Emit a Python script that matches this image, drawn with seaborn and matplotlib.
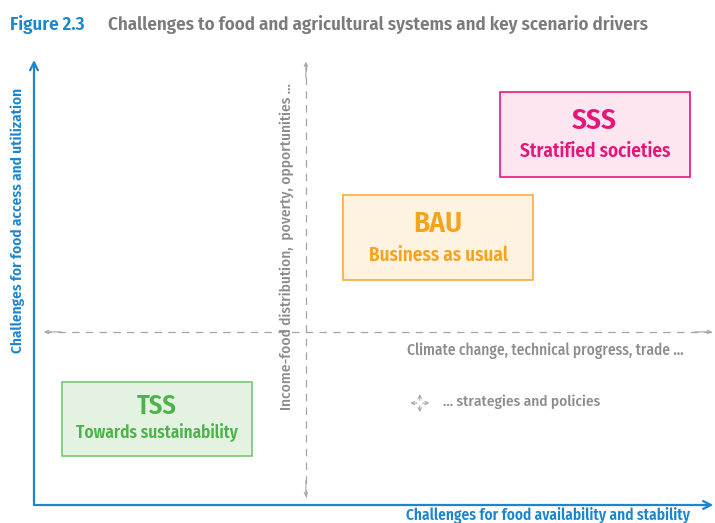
import matplotlib
matplotlib.use("Agg")
import matplotlib.pyplot as plt
from matplotlib.patches import Rectangle
import seaborn as sns

# scenario positions on the two challenge axes (0-10 scale)
codes = ["SSS", "BAU", "TSS"]
names = ["Stratified societies", "Business as usual", "Towards sustainability"]
availability = [8.27, 5.96, 1.81]   # x: challenges for food availability and stability
access = [8.33, 6.01, 1.94]         # y: challenges for food access and utilization

# where the two driver axes cross
driver_x = 4.01
driver_y = 3.89

title_fig = "Figure 2.3"
title_txt = "Challenges to food and agricultural systems and key scenario drivers"
xlabel = "Challenges for food availability and stability"
ylabel = "Challenges for food access and utilization"
h_driver = "Climate change, technical progress, trade ..."
v_driver = "Income-food distribution,  poverty, opportunities ..."
policy_txt = "... strategies and policies"

sns.set_theme(style="white")
plt.rcParams["font.family"] = ["Fira Sans Condensed", "DejaVu Sans"]

BLUE = "#1a86d0"
GREY = "#8c8c8c"
box_style = {
    "SSS": dict(edge="#e8177d", fill="#fde6f0", text="#e5157b", w=2.80, h=1.91,
                up=0.31, dn=0.39, big=21, small=13.8),
    "BAU": dict(edge="#f8ad3a", fill="#fef2e0", text="#f5a21c", w=2.80, h=1.91,
                up=0.32, dn=0.39, big=21, small=13.8),
    "TSS": dict(edge="#76c776", fill="#e3f2e1", text="#4cb34a", w=2.80, h=1.66,
                up=0.28, dn=0.33, big=19, small=12.4),
}

fig = plt.figure(figsize=(7.15, 5.23), dpi=100)
ax = fig.add_axes([34 / 715, 18 / 523, 678 / 715, 445 / 523])
ax.set_xlim(0, 10)
ax.set_ylim(0, 10)
ax.axis("off")

# title
fig.text(10 / 715, 1 - 25 / 523, title_fig, color=BLUE, fontsize=13.6,
         fontweight="semibold", va="center")
fig.text(108 / 715, 1 - 25 / 523, title_txt, color="#7b7b7b", fontsize=13.6,
         fontweight="semibold", va="center")

# main axes (blue arrows)
ax.annotate("", xy=(0, 10), xytext=(0, 0), annotation_clip=False,
            arrowprops=dict(arrowstyle="->", color=BLUE, lw=1.6,
                            shrinkA=0, shrinkB=0, mutation_scale=14))
ax.annotate("", xy=(10.02, 0), xytext=(0, 0), annotation_clip=False,
            arrowprops=dict(arrowstyle="->", color=BLUE, lw=1.6,
                            shrinkA=0, shrinkB=0, mutation_scale=14))
fig.text(18 / 715, 1 - 220 / 523, ylabel, color=BLUE, fontsize=11,
         fontweight="semibold", rotation=90, ha="center", va="center")
ax.text(9.68, -0.23, xlabel, color=BLUE, fontsize=11.1, fontweight="semibold",
        ha="right", va="center", clip_on=False)

# dashed driver axes
dash = dict(color="#a5a5a5", lw=0.9, ls=(0, (6, 5)))
ax.plot([0.15, 10], [driver_y, driver_y], **dash)
ax.plot([driver_x, driver_x], [0.18, 9.96], **dash)
for xy, xyt in [((0.15, driver_y), (0.4, driver_y)), ((10, driver_y), (9.75, driver_y)),
                ((driver_x, 9.96), (driver_x, 9.6)), ((driver_x, 0.18), (driver_x, 0.55))]:
    ax.annotate("", xy=xy, xytext=xyt, annotation_clip=False,
                arrowprops=dict(arrowstyle="->", color="#a5a5a5", lw=0.8,
                                shrinkA=0, shrinkB=0, mutation_scale=6))

ax.text(5.50, 3.46, h_driver, color=GREY, fontsize=11.1, fontweight="medium",
        ha="left", va="center")
ax.text(3.73, 5.80, v_driver, color=GREY, fontsize=11, fontweight="medium",
        rotation=90, ha="center", va="center")

# small policy cross
px, py = 5.69, 2.29
for dx, dy in [(0.14, 0), (-0.14, 0), (0, 0.2), (0, -0.2)]:
    ax.annotate("", xy=(px + dx, py + dy), xytext=(px, py),
                arrowprops=dict(arrowstyle="->", color="#a0a0a0", lw=0.7,
                                shrinkA=2, shrinkB=0, mutation_scale=6))
ax.text(6.03, 2.31, policy_txt, color=GREY, fontsize=11, fontweight="medium",
        ha="left", va="center")

# scenario boxes
for code, name, x, y in zip(codes, names, availability, access):
    st = box_style[code]
    ax.add_patch(Rectangle((x - st["w"] / 2, y - st["h"] / 2), st["w"], st["h"],
                           facecolor=st["fill"], edgecolor=st["edge"], lw=1.2))
    ax.text(x, y + st["up"], code, color=st["text"], fontsize=st["big"],
            fontweight="semibold", ha="center", va="center")
    ax.text(x, y - st["dn"], name, color=st["text"], fontsize=st["small"],
            fontweight="semibold", ha="center", va="center")

fig.savefig("out.png", dpi=100, facecolor="white")
